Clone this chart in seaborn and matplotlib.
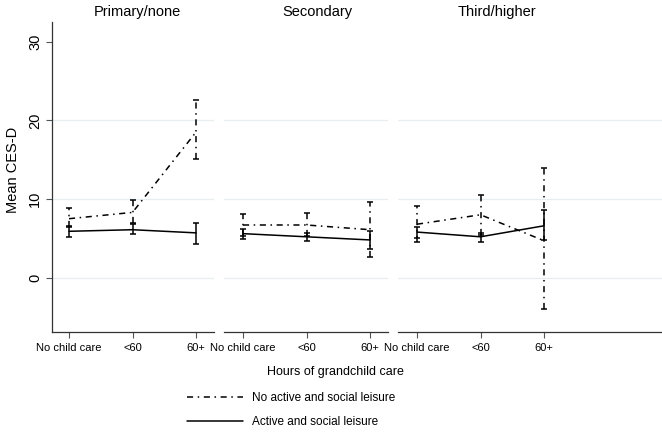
import matplotlib
matplotlib.use("Agg")
import matplotlib.pyplot as plt
from matplotlib.lines import Line2D
import pandas as pd
import seaborn as sns

# data
categories = ["No child care", "<60", "60+"]
panels = ["Primary/none", "Secondary", "Third/higher"]
series = ["No active and social leisure", "Active and social leisure"]

no_leisure_mean = [[7.5, 8.3, 18.5], [6.7, 6.7, 6.1], [6.8, 8.0, 4.7]]
no_leisure_lo = [[6.4, 7.0, 15.1], [5.3, 5.3, 2.6], [4.5, 5.4, -4.0]]
no_leisure_hi = [[8.8, 9.9, 22.6], [8.1, 8.2, 9.6], [9.1, 10.5, 14.0]]

leisure_mean = [[5.9, 6.1, 5.7], [5.6, 5.2, 4.8], [5.8, 5.2, 6.6]]
leisure_lo = [[5.2, 5.5, 4.3], [4.9, 4.7, 3.7], [5.0, 4.6, 4.8]]
leisure_hi = [[6.6, 6.8, 7.0], [6.2, 5.7, 6.0], [6.5, 5.7, 8.6]]

yticks = [0, 10, 20, 30]

sns.set_style("white")
plt.rcParams["font.family"] = ["Liberation Sans", "DejaVu Sans"]
plt.rcParams["text.color"] = "black"
plt.rcParams["xtick.labelcolor"] = "black"
plt.rcParams["ytick.labelcolor"] = "black"

W, H = 662, 432
fig = plt.figure(figsize=(W / 100, H / 100), dpi=100)

dash_dot = (4, 3, 1, 3)
# axes boxes in pixels: left, right
boxes = [(52, 214), (224, 388), (398, 662)]
bottom_px, top_px = 332, 22
unit_px = 63.5

for i, panel in enumerate(panels):
    left, right = boxes[i]
    ax = fig.add_axes([left / W, 1 - bottom_px / H, (right - left) / W, (bottom_px - top_px) / H])
    tick0 = left + 17 if i == 0 else left + 19
    x_lo = -(tick0 - left) / unit_px
    x_hi = (right - tick0) / unit_px

    df = pd.DataFrame({
        "pos": list(range(3)) * 2,
        "mean": no_leisure_mean[i] + leisure_mean[i],
        "lo": no_leisure_lo[i] + leisure_lo[i],
        "hi": no_leisure_hi[i] + leisure_hi[i],
        "series": [series[0]] * 3 + [series[1]] * 3,
    })

    for y in yticks[:3]:
        ax.axhline(y, color="#e6eef0", lw=0.9, zorder=0)

    sns.lineplot(data=df, x="pos", y="mean", style="series",
                 dashes={series[0]: dash_dot, series[1]: ""},
                 color="black", lw=1.1, ax=ax, legend=False, zorder=3)

    for s, ls in zip(series, [(0, dash_dot), "-"]):
        d = df[df["series"] == s]
        eb = ax.errorbar(d["pos"], d["mean"],
                         yerr=[d["mean"] - d["lo"], d["hi"] - d["mean"]],
                         fmt="none", ecolor="black", elinewidth=1.1,
                         capsize=2.5, capthick=1.1, zorder=3)
        eb[2][0].set_linestyle(ls)

    ax.set_xlim(x_lo, x_hi)
    ax.set_ylim(-6.9, 32.5)
    ax.set_xticks(range(3))
    ax.set_xticklabels(categories, fontsize=8)
    ax.set_xlabel("")
    ax.set_ylabel("")
    ax.tick_params(axis="x", length=4, width=0.8, color="#555555", pad=4, bottom=True)
    for sp in ["top", "right"]:
        ax.spines[sp].set_visible(False)
    ax.spines["bottom"].set_color("#333333")
    ax.spines["bottom"].set_linewidth(0.9)
    if i == 0:
        ax.set_yticks(yticks)
        ax.set_yticklabels([str(t) for t in yticks], fontsize=10.5, rotation=90, va="center")
        ax.tick_params(axis="y", length=4, width=0.8, color="#555555", pad=3, left=True)
        ax.spines["left"].set_color("#333333")
        ax.spines["left"].set_linewidth(0.9)
    else:
        ax.set_yticks([])
        ax.spines["left"].set_visible(False)

title_x = [137, 317, 497]
for tx, panel in zip(title_x, panels):
    fig.text(tx / W, 1 - 12 / H, panel, ha="center", va="center", fontsize=10.5)

fig.text(13 / W, 1 - 170 / H, "Mean CES-D", rotation=90, ha="center", va="center", fontsize=10.5)
fig.text(335 / W, 1 - 372 / H, "Hours of grandchild care", ha="center", va="center", fontsize=9)

handles = [Line2D([0], [0], color="black", lw=1.1, linestyle=(0, dash_dot)),
           Line2D([0], [0], color="black", lw=1.1)]
fig.legend(handles, series, loc="upper left", bbox_to_anchor=(187 / W, 1 - 392 / H),
           frameon=False, fontsize=8.5, handlelength=4.75, handletextpad=0.76,
           labelspacing=1.05, borderpad=0, borderaxespad=0)

fig.savefig("out.png", dpi=100, facecolor="white")
